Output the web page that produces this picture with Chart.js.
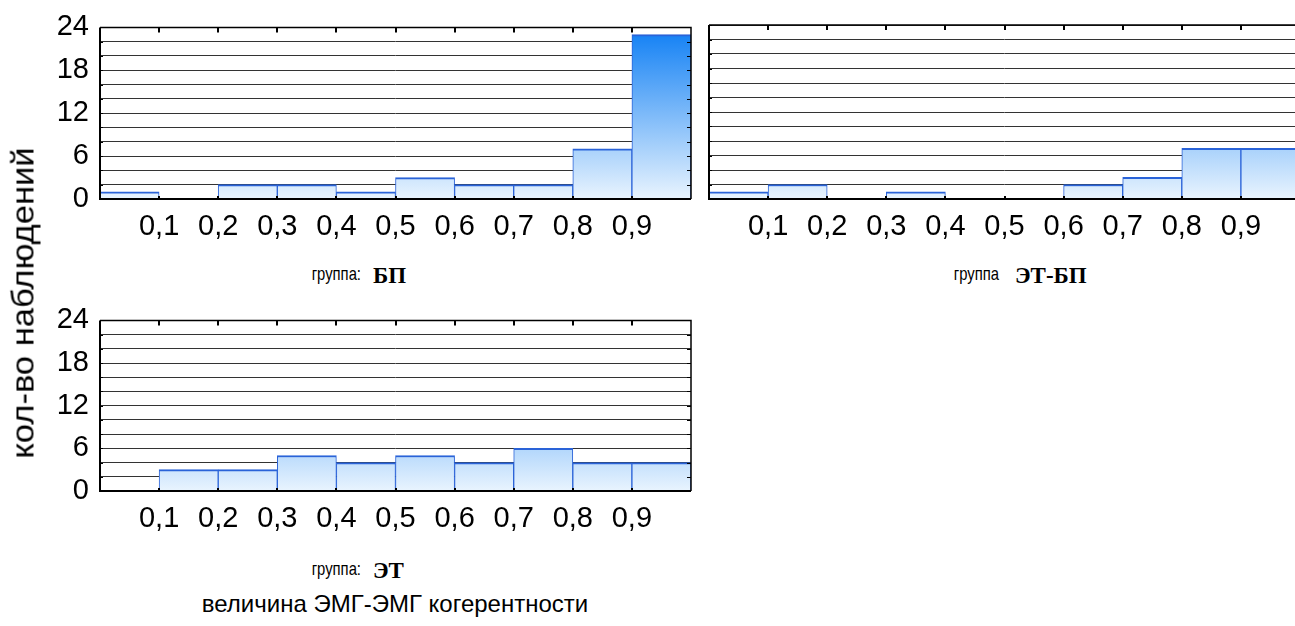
<!DOCTYPE html>
<html>
<head>
<meta charset="utf-8">
<script src="https://cdn.jsdelivr.net/npm/chart.js@4.4.1/dist/chart.umd.min.js"></script>
<style>
  html, body { margin: 0; padding: 0; background: #fff; width: 1295px; height: 626px; overflow: hidden; }
  canvas { position: absolute; }
  .lbl { position: absolute; font-family: 'Liberation Sans', Arial, sans-serif; color: #000; white-space: nowrap; }
  .grp { font-size: 19px; transform: translate(-100%, -50%) scaleX(0.78); transform-origin: right center; }
  .grpname { font-family: 'Liberation Serif', 'Times New Roman', serif; font-size: 23px; font-weight: bold; transform: translateY(-50%); }
  .ytitle { font-size: 32px; transform: translate(-50%, -50%) rotate(-90deg) scaleX(1.08); }
  .xtitle { font-size: 24px; transform: translate(-50%, -50%); }
</style>
</head>
<body>
<canvas id="panelBP"></canvas>
<canvas id="panelETBP"></canvas>
<canvas id="panelET"></canvas>

<div class="lbl grp" style="left:361px; top:274px;">группа:</div>
<div class="lbl grpname" style="left:373px; top:276px;">БП</div>
<div class="lbl grp" style="left:999px; top:274px;">группа</div>
<div class="lbl grpname" style="left:1015px; top:276px;">ЭТ-БП</div>
<div class="lbl grp" style="left:361px; top:569px;">группа:</div>
<div class="lbl grpname" style="left:373px; top:571px;">ЭТ</div>
<div class="lbl ytitle" style="left:23px; top:303px;">кол-во наблюдений</div>
<div class="lbl xtitle" style="left:395px; top:604px;">величина ЭМГ-ЭМГ когерентности</div>

<script>
// Histogram bins: centres of the 0.1-wide coherence intervals
const binCenters = [0.05, 0.15, 0.25, 0.35, 0.45, 0.55, 0.65, 0.75, 0.85, 0.95];

// Counts per bin for each group
const countsBP   = [1, 0, 2, 2, 1, 3, 2, 2, 7, 23];
const countsETBP = [1, 2, 0, 1, 0, 0, 2, 3, 7, 7];
const countsET   = [0, 3, 3, 5, 4, 5, 4, 6, 4, 4];

// Axis ticks
const xTickValues = [0.1, 0.2, 0.3, 0.4, 0.5, 0.6, 0.7, 0.8, 0.9];
const xTickLabels = ['0,1', '0,2', '0,3', '0,4', '0,5', '0,6', '0,7', '0,8', '0,9'];
const yTickValues = [0, 6, 12, 18, 24];
const yTickLabels = ['0', '6', '12', '18', '24'];
const yMax = 24;
const yGridStep = 2;

const FONT = "'Liberation Sans', Arial, sans-serif";

// Frame around the plot area plus the small inward tick marks
const framePlugin = {
  id: 'frame',
  afterDatasetsDraw(chart) {
    const { ctx, chartArea: a, scales } = chart;
    const x = scales.x, y = scales.y;
    ctx.save();
    ctx.strokeStyle = '#000';
    ctx.lineWidth = 1;
    y.ticks.forEach(t => {
      const py = Math.round(y.getPixelForValue(t.value)) + 0.5;
      ctx.beginPath(); ctx.moveTo(a.right - 4, py); ctx.lineTo(a.right, py); ctx.stroke();
      ctx.beginPath(); ctx.moveTo(a.left, py); ctx.lineTo(a.left + 3, py); ctx.stroke();
    });
    ctx.lineWidth = 2;
    xTickValues.forEach(v => {
      const px = Math.round(x.getPixelForValue(v));
      ctx.beginPath(); ctx.moveTo(px, a.top); ctx.lineTo(px, a.top + 5); ctx.stroke();
      ctx.beginPath(); ctx.moveTo(px, a.bottom); ctx.lineTo(px, a.bottom - 3); ctx.stroke();
    });
    ctx.lineWidth = 1.5;
    ctx.beginPath();
    ctx.moveTo(a.left, a.top); ctx.lineTo(a.right, a.top); ctx.lineTo(a.right, a.bottom);
    ctx.stroke();
    ctx.lineWidth = 2;
    ctx.beginPath();
    ctx.moveTo(a.left, a.top); ctx.lineTo(a.left, a.bottom); ctx.lineTo(a.right, a.bottom);
    ctx.stroke();
    ctx.restore();
  }
};

function barGradient(context) {
  const chart = context.chart;
  const a = chart.chartArea;
  if (!a) return 'rgb(200,226,252)';
  const g = chart.ctx.createLinearGradient(0, a.bottom, 0, a.top);
  g.addColorStop(0, 'rgb(233,244,254)');
  g.addColorStop(1, 'rgb(14,126,244)');
  return g;
}

const Y_AXIS_W = 70, PAD_TOP = 26, X_AXIS_H = 56, PAD_RIGHT = 6;

function makePanel(id, counts, area, showYLabels) {
  const canvas = document.getElementById(id);
  const w = Y_AXIS_W + (area.right - area.left) + PAD_RIGHT;
  const h = PAD_TOP + (area.bottom - area.top) + X_AXIS_H;
  canvas.width = w; canvas.height = h;
  canvas.style.width = w + 'px'; canvas.style.height = h + 'px';
  canvas.style.left = (area.left - Y_AXIS_W) + 'px';
  canvas.style.top = (area.top - PAD_TOP) + 'px';

  new Chart(canvas, {
    type: 'bar',
    data: {
      datasets: [{
        data: binCenters.map((c, i) => ({ x: c, y: counts[i] })),
        backgroundColor: barGradient,
        borderColor: '#2a63d8',
        borderWidth: { top: 2, left: 1, right: 1, bottom: 0 },
        borderSkipped: false,
        barPercentage: 1,
        categoryPercentage: 1
      }]
    },
    options: {
      responsive: false,
      animation: false,
      devicePixelRatio: 1,
      layout: { padding: { top: PAD_TOP, right: PAD_RIGHT, left: 0, bottom: 0 } },
      plugins: { legend: { display: false }, tooltip: { enabled: false } },
      scales: {
        x: {
          type: 'linear',
          min: 0, max: 1,
          offset: false,
          afterBuildTicks(scale) { scale.ticks = xTickValues.map(v => ({ value: v })); },
          afterFit(scale) { scale.height = X_AXIS_H; },
          grid: { display: false, drawTicks: false },
          border: { display: false },
          ticks: {
            autoSkip: false, maxRotation: 0, padding: 11,
            color: '#000', font: { family: FONT, size: 29 },
            callback: (v, i) => xTickLabels[i]
          }
        },
        y: {
          type: 'linear',
          min: 0, max: yMax,
          afterFit(scale) { scale.width = Y_AXIS_W; },
          grid: { color: '#333', lineWidth: 1, drawTicks: false },
          border: { display: false },
          ticks: {
            display: showYLabels,
            stepSize: yGridStep, autoSkip: false, padding: 11,
            color: '#000', font: { family: FONT, size: 29 },
            callback: v => { const k = yTickValues.indexOf(v); return k >= 0 ? yTickLabels[k] : ''; }
          }
        }
      }
    },
    plugins: [framePlugin]
  });
}

makePanel('panelBP',   countsBP,   { left: 100, top: 25,  right: 691,  bottom: 199 }, true);
makePanel('panelETBP', countsETBP, { left: 709, top: 25,  right: 1300, bottom: 199 }, false);
makePanel('panelET',   countsET,   { left: 100, top: 318, right: 691,  bottom: 491 }, true);
</script>
</body>
</html>
